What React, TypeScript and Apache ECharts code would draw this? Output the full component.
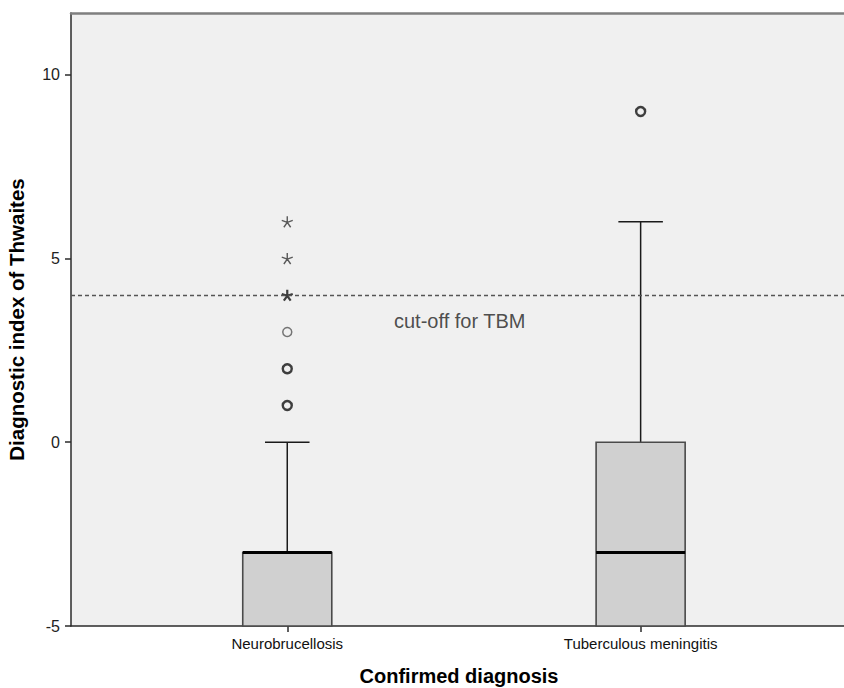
import React, { useEffect, useRef } from 'react';
import * as echarts from 'echarts';

const categories = ['Neurobrucellosis', 'Tuberculous meningitis'];
const categoryPositions = [1, 2];
const whiskerLow = [-5, -5];
const quartile1 = [-5, -5];
const medians = [-3, -3];
const quartile3 = [-3, 0];
const whiskerHigh = [0, 6];

const circleOutlierGroup = [0, 0, 0, 1];
const circleOutlierValues = [3, 2, 1, 9];
const circleOutlierCounts = [1, 2, 2, 2];

const starOutlierGroup = [0, 0, 0];
const starOutlierValues = [6, 5, 4];
const starOutlierCounts = [1, 1, 2];

const yTickValues = [-5, 0, 5, 10];
const cutoffValue = 4;
const cutoffLabel = 'cut-off for TBM';
const yAxisTitle = 'Diagnostic index of Thwaites';
const xAxisTitle = 'Confirmed diagnosis';

const FONT = '"Liberation Sans", Arial, Helvetica, sans-serif';
const STAR =
  'path://M0,-5L0,0M4.76,-1.55L0,0M2.94,4.05L0,0M-2.94,4.05L0,0M-4.76,-1.55L0,0';

export default function App() {
  const ref = useRef<HTMLDivElement>(null);

  useEffect(() => {
    if (!ref.current) return;
    const chart = echarts.init(ref.current, null, { renderer: 'svg' });

    const boxData = categoryPositions.map((p, i) => [
      p,
      whiskerLow[i],
      quartile1[i],
      medians[i],
      quartile3[i],
      whiskerHigh[i],
    ]);

    const circleData = circleOutlierValues.map((v, i) => ({
      value: [categoryPositions[circleOutlierGroup[i]], v],
      itemStyle: {
        borderColor: circleOutlierCounts[i] > 1 ? '#111' : '#555',
        borderWidth: circleOutlierCounts[i] > 1 ? 2.4 : 1.5,
      },
    }));

    const starData = starOutlierValues.map((v, i) => ({
      value: [categoryPositions[starOutlierGroup[i]], v],
      itemStyle: {
        borderColor: starOutlierCounts[i] > 1 ? '#111' : '#333',
        borderWidth: starOutlierCounts[i] > 1 ? 2.2 : 1.4,
      },
    }));

    const xMin = 0.388;
    const xMax = 2.584;

    const option: any = {
      animation: false,
      grid: {
        left: 71,
        top: 13,
        right: -3,
        bottom: 62,
        containLabel: false,
        outerBoundsMode: 'none',
        show: true,
        backgroundColor: '#f0f0f0',
        borderWidth: 0,
        borderColor: 'rgba(0,0,0,0)',
      },
      xAxis: [
        {
          type: 'value',
          min: xMin,
          max: xMax,
          name: xAxisTitle,
          nameLocation: 'middle',
          nameGap: 40,
          nameTextStyle: { fontSize: 20, fontWeight: 'bold', color: '#000', fontFamily: FONT },
          axisLine: { show: true, onZero: false, lineStyle: { color: '#2b2b2b', width: 1.5 } },
          axisTick: {
            show: true,
            length: 6,
            customValues: categoryPositions,
            lineStyle: { color: '#2b2b2b', width: 1.5 },
          },
          axisLabel: {
            customValues: categoryPositions,
            formatter: (v: number) => {
              const idx = categoryPositions.indexOf(v);
              return idx >= 0 ? categories[idx] : '';
            },
            fontSize: 15,
            color: '#111',
            margin: 10,
            fontFamily: FONT,
          },
          splitLine: { show: false },
        },
        {
          type: 'value',
          position: 'top',
          min: xMin,
          max: xMax,
          axisLine: { show: true, onZero: false, lineStyle: { color: '#7f7f7f', width: 2.5 } },
          axisTick: { show: false },
          axisLabel: { show: false },
          splitLine: { show: false },
        },
      ],
      yAxis: {
        type: 'value',
        min: -5,
        max: 11.68,
        interval: 5,
        name: yAxisTitle,
        nameLocation: 'middle',
        nameGap: 44,
        nameTextStyle: { fontSize: 20.5, fontWeight: 'bold', color: '#000', fontFamily: FONT },
        axisLine: { show: true, lineStyle: { color: '#2b2b2b', width: 1.5 } },
        axisTick: {
          show: true,
          length: 6,
          customValues: yTickValues,
          lineStyle: { color: '#2b2b2b', width: 1.5 },
        },
        axisLabel: {
          customValues: yTickValues,
          fontSize: 16,
          color: '#222',
          margin: 11,
          fontFamily: FONT,
        },
        splitLine: { show: false },
      },
      series: [
        {
          type: 'custom',
          name: 'boxes',
          data: boxData,
          encode: { x: 0, y: [1, 2, 3, 4, 5] },
          z: 3,
          renderItem: (params: any, api: any) => {
            const x = api.value(0);
            const low = api.coord([x, api.value(1)]);
            const q1 = api.coord([x, api.value(2)]);
            const med = api.coord([x, api.value(3)]);
            const q3 = api.coord([x, api.value(4)]);
            const high = api.coord([x, api.value(5)]);
            const boxW = api.size([0.252, 0])[0];
            const capW = boxW / 2;
            const cx = q1[0];
            const wStyle = { stroke: '#1a1a1a', lineWidth: 1.5 };
            const children: any[] = [];
            if (high[1] < q3[1]) {
              children.push(
                { type: 'line', shape: { x1: cx, y1: q3[1], x2: cx, y2: high[1] }, style: wStyle },
                {
                  type: 'line',
                  shape: { x1: cx - capW / 2, y1: high[1], x2: cx + capW / 2, y2: high[1] },
                  style: wStyle,
                }
              );
            }
            if (low[1] > q1[1]) {
              children.push(
                { type: 'line', shape: { x1: cx, y1: q1[1], x2: cx, y2: low[1] }, style: wStyle },
                {
                  type: 'line',
                  shape: { x1: cx - capW / 2, y1: low[1], x2: cx + capW / 2, y2: low[1] },
                  style: wStyle,
                }
              );
            }
            children.push({
              type: 'rect',
              shape: { x: cx - boxW / 2, y: q3[1], width: boxW, height: q1[1] - q3[1] },
              style: { fill: '#d0d0d0', stroke: '#4a4a4a', lineWidth: 1.6 },
            });
            children.push({
              type: 'line',
              shape: { x1: cx - boxW / 2, y1: med[1], x2: cx + boxW / 2, y2: med[1] },
              style: { stroke: '#000', lineWidth: 3 },
            });
            return { type: 'group', children };
          },
          markLine: {
            silent: true,
            symbol: ['none', 'none'],
            label: { show: false },
            lineStyle: { color: '#555', type: [4, 3], width: 1.3 },
            data: [{ yAxis: cutoffValue }],
          },
        },
        {
          type: 'scatter',
          name: 'circles',
          data: circleData,
          symbol: 'circle',
          symbolSize: 9,
          itemStyle: { color: 'rgba(0,0,0,0)' },
          z: 4,
        },
        {
          type: 'scatter',
          name: 'stars',
          data: starData,
          symbol: STAR,
          symbolSize: [11, 11],
          itemStyle: { color: 'rgba(0,0,0,0)' },
          z: 4,
        },
        {
          type: 'scatter',
          name: 'cutoffLabel',
          data: [[1.302, 3.3]],
          symbolSize: 0,
          silent: true,
          label: {
            show: true,
            position: 'right',
            distance: 0,
            formatter: cutoffLabel,
            fontSize: 20,
            color: '#222',
            fontFamily: FONT,
          },
          z: 5,
        },
      ],
    };

    chart.setOption(option);
    return () => chart.dispose();
  }, []);

  return (
    <div
      ref={ref}
      style={{ position: 'fixed', left: 0, top: 0, width: 844, height: 688, background: '#fff' }}
    />
  );
}
